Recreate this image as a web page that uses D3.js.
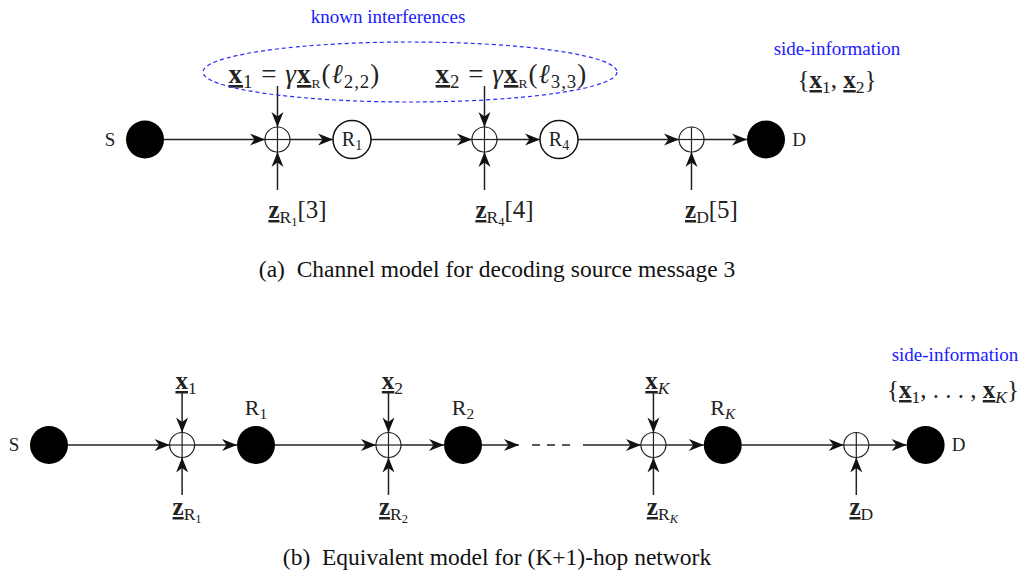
<!DOCTYPE html>
<html>
<head>
<meta charset="utf-8">
<script src="https://cdn.jsdelivr.net/npm/d3@7"></script>
<style>
  body { margin: 0; background: #fff; }
  svg { display: block; }
  svg text { font-family: 'Liberation Serif', 'Times New Roman', serif; }
  .wire { stroke: #222; stroke-width: 1.5; fill: none; }
</style>
</head>
<body>
<svg id="fig"></svg>
<script>
// ---- diagram data ----
// (a) channel model for message 3
const kindsA = ['source', 'adder', 'relayOpen', 'adder', 'relayOpen', 'adder', 'sink'];
const namesA = ['S', '', 'R1', '', 'R4', '', 'D'];
const slotsA = [0, 0.64, 1, 1.64, 2, 2.64, 3];            // hop index along the chain
const interferenceA = ['x1', 'x2', null];                  // top input of each adder
const noiseA = ['R1[3]', 'R4[4]', 'D[5]'];                 // bottom input of each adder

// (b) equivalent (K+1)-hop network
const kindsB = ['source', 'adder', 'relay', 'adder', 'relay', 'gap', 'adder', 'relay', 'adder', 'sink'];
const namesB = ['S', '', 'R1', '', 'R2', '', '', 'RK', '', 'D'];
const slotsB = [0, 0.643, 1, 1.64, 2, 2.425, 2.92, 3.255, 3.9, 4.235];
const interferenceB = ['x1', 'x2', 'xK', null];
const noiseB = ['R1', 'R2', 'RK', 'D'];

const captions = ['(a)\u00a0\u00a0Channel model for decoding source message 3',
                  '(b)\u00a0\u00a0Equivalent model for (K+1)-hop network'];

// ---- setup ----
const W = 1029, H = 571;
const svg = d3.select('#fig').attr('width', W).attr('height', H);

svg.append('defs').append('marker')
    .attr('id', 'arrow')
    .attr('viewBox', '-16 -7 17 14')
    .attr('refX', 0).attr('refY', 0)
    .attr('markerUnits', 'userSpaceOnUse')
    .attr('markerWidth', 17).attr('markerHeight', 14)
    .attr('orient', 'auto')
  .append('path')
    .attr('d', 'M0,0 L-15,-6 L-10.5,0 L-15,6 Z')
    .attr('fill', '#111');

// writes a formula as tspans; flags: bold, ul, it, sub, subsub, tiny
function mathText(g, x, y, parts, size, anchor = 'middle', color = '#222') {
  const t = g.append('text')
      .attr('x', x).attr('y', y)
      .attr('font-size', size)
      .attr('fill', color)
      .attr('text-anchor', anchor)
      .style('white-space', 'pre');
  let shift = 0;
  parts.forEach(p => {
    const f = (p.s || '').split(' ');
    const lvl = f.includes('subsub') ? 2 : f.includes('sub') ? 1 : 0;
    const target = lvl === 0 ? 0 : lvl === 1 ? size * 0.2 : size * 0.3;
    let fs = lvl === 0 ? size : lvl === 1 ? size * 0.7 : size * 0.5;
    if (f.includes('tiny')) fs = size * 0.5;
    const ts = t.append('tspan')
        .attr('dy', (target - shift).toFixed(2))
        .attr('font-size', fs.toFixed(1))
        .text(p.t);
    shift = target;
    if (f.includes('bold')) ts.attr('font-weight', 'bold');
    if (f.includes('it')) ts.attr('font-style', 'italic');
    if (f.includes('ul')) ts.style('text-decoration', 'underline');
  });
  return t;
}

const vec = c => ({ t: c, s: 'bold ul' });

function vecLabel(name) {
  const sub = name.slice(1);
  return [vec(name[0]), { t: sub, s: sub === 'K' ? 'sub it' : 'sub' }];
}

function noiseLabel(spec) {
  // 'R1[3]' -> z_{R_1}[3] ; 'D' -> z_D
  const m = spec.match(/^([A-Z])([0-9K]?)(\[\d\])?$/);
  const parts = [vec('z'), { t: m[1], s: 'sub' }];
  if (m[2]) parts.push({ t: m[2], s: m[2] === 'K' ? 'subsub it' : 'subsub' });
  if (m[3]) parts.push({ t: m[3], s: '' });
  return parts;
}

function nodeLabel(name) {
  if (name.length === 1) return [{ t: name, s: '' }];
  return [{ t: name[0], s: '' }, { t: name.slice(1), s: name[1] === 'K' ? 'sub it' : 'sub' }];
}

const radius = { source: 19, sink: 19, relay: 19, relayOpen: 19, adder: 12.5, gap: 32 };

function drawChain(cfg) {
  const g = svg.append('g');
  const x = d3.scaleLinear().domain([0, 1]).range([cfg.x0, cfg.x0 + cfg.hop]);
  const y = cfg.y;
  const nodes = cfg.kinds.map((k, i) => ({ kind: k, name: cfg.names[i], cx: x(cfg.slots[i]) }));

  // horizontal links
  d3.pairs(nodes).forEach(([a, b]) => {
    g.append('line').attr('class', 'wire')
        .attr('x1', a.cx + radius[a.kind])
        .attr('x2', b.cx - radius[b.kind])
        .attr('y1', y).attr('y2', y)
        .attr('marker-end', 'url(#arrow)');
  });

  nodes.forEach(n => {
    if (n.kind === 'gap') {
      g.append('line').attr('class', 'wire')
          .attr('x1', n.cx - 19).attr('x2', n.cx + 21)
          .attr('y1', y).attr('y2', y)
          .attr('stroke-dasharray', '8,7');
    } else if (n.kind === 'adder') {
      const r = radius.adder;
      g.append('circle').attr('cx', n.cx).attr('cy', y).attr('r', r)
          .attr('fill', 'none').attr('stroke', '#222').attr('stroke-width', 1.2);
      g.append('line').attr('x1', n.cx).attr('x2', n.cx)
          .attr('y1', y - r).attr('y2', y + r)
          .attr('stroke', '#222').attr('stroke-width', 1.2);
      g.append('line').attr('x1', n.cx - r).attr('x2', n.cx + r)
          .attr('y1', y).attr('y2', y)
          .attr('stroke', '#222').attr('stroke-width', 1.2);
    } else if (n.kind === 'relayOpen') {
      g.append('circle').attr('cx', n.cx).attr('cy', y).attr('r', radius.relayOpen)
          .attr('fill', '#fff').attr('stroke', '#111').attr('stroke-width', 1.5);
      mathText(g, n.cx, y + 6, nodeLabel(n.name), 20);
    } else {
      g.append('circle').attr('cx', n.cx).attr('cy', y).attr('r', radius[n.kind])
          .attr('fill', '#000');
    }
  });

  // node names outside of filled circles
  nodes.forEach(n => {
    if (n.kind === 'source') mathText(g, n.cx - 35, y + 6, nodeLabel(n.name), 19);
    if (n.kind === 'sink') mathText(g, n.cx + 33, y + 6, nodeLabel(n.name), 19);
    if (n.kind === 'relay') mathText(g, n.cx, y - 30, nodeLabel(n.name), 22);
  });

  // vertical inputs into the adders
  const adders = nodes.filter(n => n.kind === 'adder');
  adders.forEach((n, i) => {
    const r = radius.adder;
    if (cfg.top[i]) {
      g.append('line').attr('class', 'wire')
          .attr('x1', n.cx).attr('x2', n.cx)
          .attr('y1', cfg.topStart).attr('y2', y - r)
          .attr('marker-end', 'url(#arrow)');
    }
    g.append('line').attr('class', 'wire')
        .attr('x1', n.cx).attr('x2', n.cx)
        .attr('y1', cfg.botStart).attr('y2', y + r)
        .attr('marker-end', 'url(#arrow)');
    cfg.drawTop(g, n, i);
    mathText(g, n.cx + cfg.noiseDx(i), cfg.noiseY, noiseLabel(cfg.bottom[i]), 25);
  });
  return g;
}

// ---- (a) ----
const eqParts = (k, l) => [vec('x'), { t: k, s: 'sub' }, { t: '\u2005=\u2005', s: '' }, { t: 'γ', s: 'it' },
  vec('x'), { t: 'R', s: 'sub tiny' }, { t: '(', s: '' }, { t: 'ℓ', s: 'it' },
  { t: l, s: 'sub' }, { t: ')', s: '' }];
const eqA = [eqParts('1', '2,2'), eqParts('2', '3,3')];

drawChain({
  kinds: kindsA, names: namesA, slots: slotsA, top: interferenceA, bottom: noiseA,
  x0: 145, hop: 207, y: 139.5, topStart: 86, botStart: 190, noiseY: 218,
  noiseDx: () => 20,
  drawTop: (g, n, i) => {
    if (interferenceA[i]) mathText(g, n.cx + 27, 83, eqA[i], 27)
        .attr('letter-spacing', 1);
  }
});

// dashed ellipse round the known interferences
svg.append('ellipse')
    .attr('cx', 410).attr('cy', 72).attr('rx', 207).attr('ry', 30)
    .attr('fill', 'none').attr('stroke', '#2a2aff').attr('stroke-width', 1.2)
    .attr('stroke-dasharray', '4,3');

svg.append('text').attr('x', 388).attr('y', 23)
    .attr('font-size', 19).attr('fill', '#1a1aff')
    .attr('text-anchor', 'middle').text('known interferences');

svg.append('text').attr('x', 837).attr('y', 55)
    .attr('font-size', 19).attr('fill', '#1a1aff')
    .attr('text-anchor', 'middle').text('side-information');
mathText(svg, 837, 88, [{ t: '{', s: '' }, vec('x'), { t: '1', s: 'sub' }, { t: ', ', s: '' },
  vec('x'), { t: '2', s: 'sub' }, { t: '}', s: '' }], 25);

// ---- (b) ----
drawChain({
  kinds: kindsB, names: namesB, slots: slotsB, top: interferenceB, bottom: noiseB,
  x0: 49, hop: 207, y: 445, topStart: 392, botStart: 495, noiseY: 515,
  noiseDx: i => (i === 2 ? 9 : 5),
  drawTop: (g, n, i) => {
    if (interferenceB[i]) mathText(g, n.cx + 4, 389, vecLabel(interferenceB[i]), 25);
  }
});

svg.append('text').attr('x', 955).attr('y', 361)
    .attr('font-size', 19).attr('fill', '#1a1aff')
    .attr('text-anchor', 'middle').text('side-information');
mathText(svg, 953, 398, [{ t: '{', s: '' }, vec('x'), { t: '1', s: 'sub' }, { t: ', . . . , ', s: '' },
  vec('x'), { t: 'K', s: 'sub it' }, { t: '}', s: '' }], 25);

// ---- captions ----
svg.selectAll('.caption')
  .data(captions)
  .join('text')
    .attr('class', 'caption')
    .attr('x', 497)
    .attr('y', (d, i) => [277, 565][i])
    .attr('font-size', 23.5).attr('fill', '#111')
    .attr('text-anchor', 'middle')
    .text(d => d);
</script>
</body>
</html>
